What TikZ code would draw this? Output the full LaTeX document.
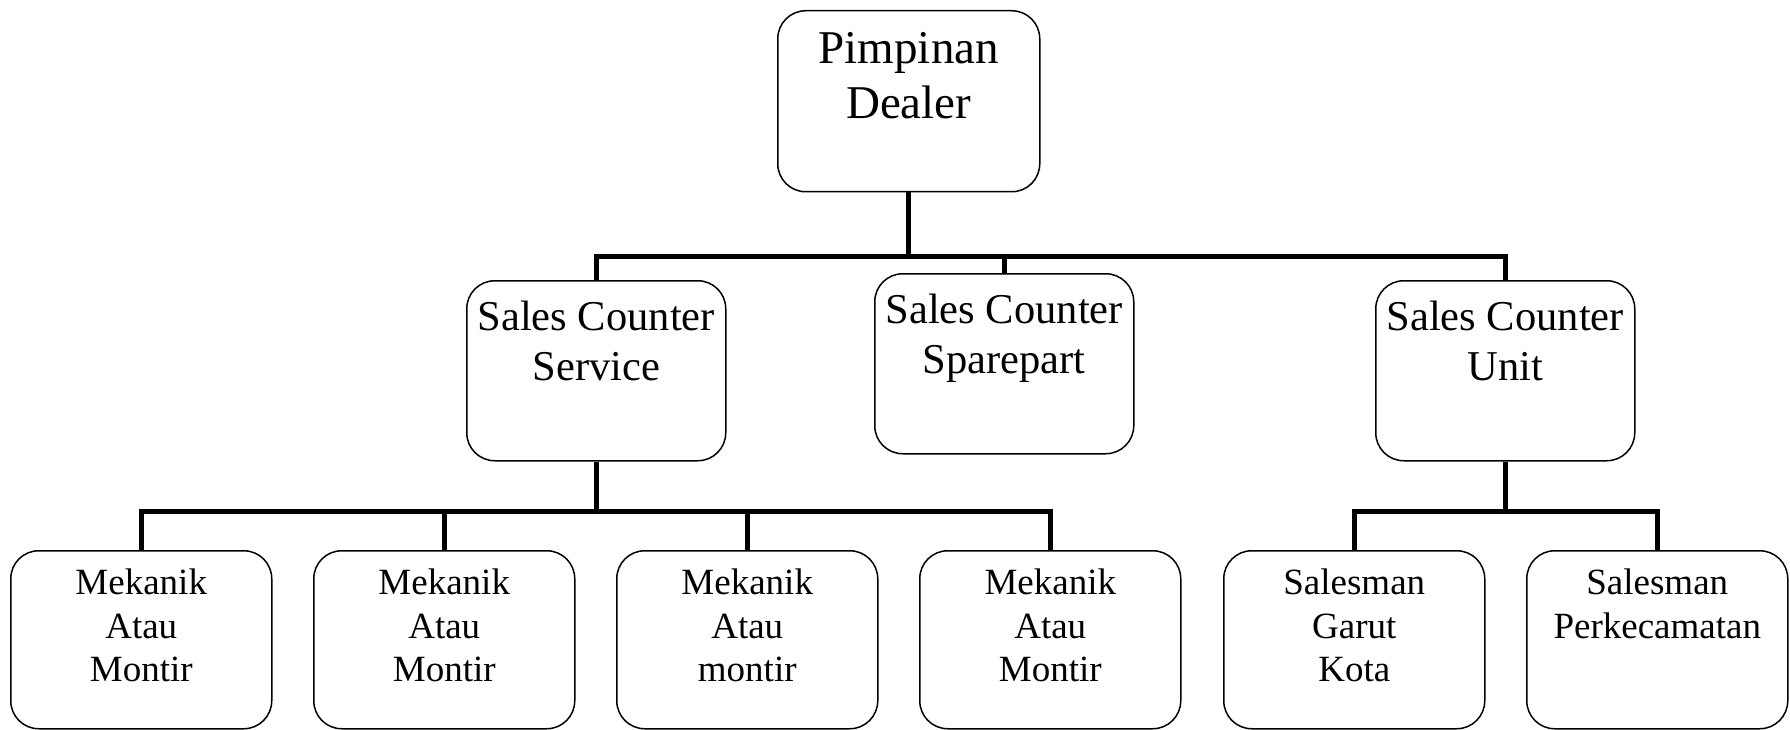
\documentclass[tikz,border=0pt]{standalone}
\usepackage{fontspec}
\setmainfont{Liberation Serif}
\newcommand{\Lone}[1]{\parbox[c][181pt][t]{262pt}{\centering\fontsize{47}{55}\selectfont\rule{0pt}{53pt}#1}}
\newcommand{\Ltwo}[1]{\parbox[c][180pt][t]{259pt}{\centering\fontsize{42.5}{50}\selectfont\rule{0pt}{50pt}#1}}
\newcommand{\Lthree}[1]{\parbox[c][178pt][t]{261pt}{\centering\fontsize{37}{43.5}\selectfont\rule{0pt}{44pt}#1}}
\begin{document}
\begin{tikzpicture}[x=1pt,y=-1pt,
  orgbox/.style={draw, line width=1.5pt, rounded corners=28pt, inner sep=0pt, anchor=north west},
  conn/.style={draw, line width=5pt}]
\useasboundingbox (0,0) rectangle (1790,730);
% level 1
\node[orgbox] (top) at (777,10) {\Lone{Pimpinan\\Dealer}};
% level 2
\node[orgbox] (svc) at (466,280) {\Ltwo{Sales Counter\\Service}};
\node[orgbox] (spare) at (874,273) {\Ltwo{Sales Counter\\Sparepart}};
\node[orgbox] (unit) at (1375,280) {\Ltwo{Sales Counter\\Unit}};
% level 3
\node[orgbox] (m1) at (10,550) {\Lthree{Mekanik\\Atau\\Montir}};
\node[orgbox] (m2) at (313,550) {\Lthree{Mekanik\\Atau\\Montir}};
\node[orgbox] (m3) at (616,550) {\Lthree{Mekanik\\Atau\\montir}};
\node[orgbox] (m4) at (919,550) {\Lthree{Mekanik\\Atau\\Montir}};
\node[orgbox] (sg) at (1223,550) {\Lthree{Salesman\\Garut\\Kota}};
\node[orgbox] (sp) at (1526,550) {\Lthree{Salesman\\Perkecamatan}};
% connectors level 1 -> 2
\draw[conn] (top.south) -- ++(0,65);
\draw[conn] (svc.north) -- ++(0,-24) -| (unit.north);
\draw[conn] (spare.north) -- ++(0,-17);
% connectors service -> mekanik
\draw[conn] (svc.south) -- ++(0,52);
\draw[conn] (m1.north) -- ++(0,-39) -| (m4.north);
\draw[conn] (m2.north) -- ++(0,-39);
\draw[conn] (m3.north) -- ++(0,-39);
% connectors unit -> salesman
\draw[conn] (unit.south) -- ++(0,52);
\draw[conn] (sg.north) -- ++(0,-39) -| (sp.north);
\end{tikzpicture}
\end{document}
